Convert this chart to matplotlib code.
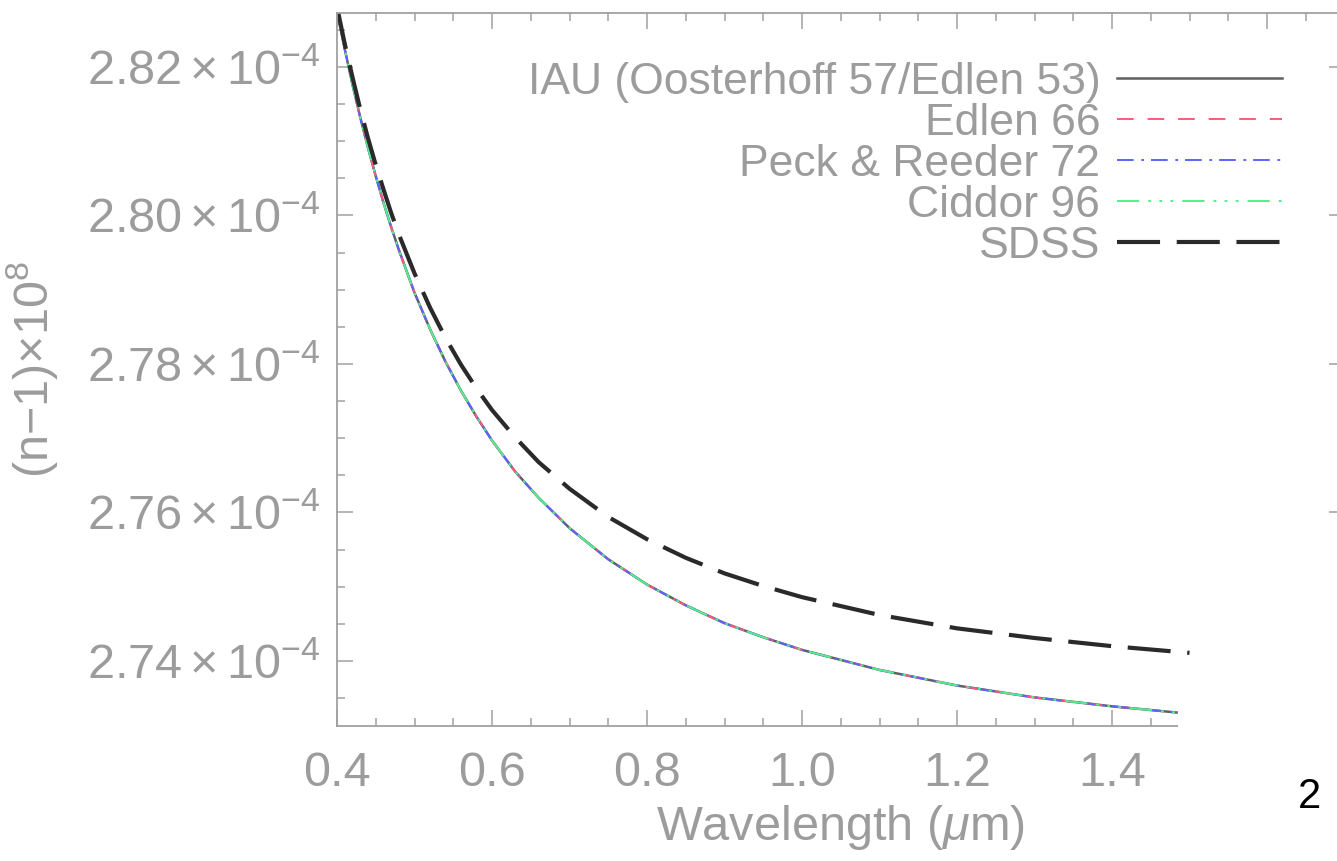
import matplotlib
matplotlib.use('Agg')
import matplotlib.pyplot as plt
from matplotlib.patches import Rectangle
from matplotlib.ticker import MultipleLocator, FuncFormatter

# wavelength in micron, refractivity (n-1) in units of 1e-4
wavelength = [0.40, 0.41, 0.42, 0.43, 0.44, 0.45, 0.46, 0.47, 0.48, 0.50,
              0.52, 0.54, 0.56, 0.58, 0.60, 0.63, 0.66, 0.70, 0.75, 0.80,
              0.85, 0.90, 0.95, 1.00, 1.10, 1.20, 1.30, 1.40, 1.50]

iau = [2.8275, 2.8224, 2.8176, 2.8132, 2.8091, 2.8053, 2.8017, 2.7984, 2.7953, 2.7896,
       2.7847, 2.7803, 2.7764, 2.7729, 2.7697, 2.7655, 2.7620, 2.7579, 2.7537, 2.7503,
       2.7475, 2.7451, 2.7432, 2.7415, 2.7388, 2.7367, 2.7351, 2.7339, 2.7329]
edlen66 = [2.8275, 2.8224, 2.8176, 2.8132, 2.8091, 2.8053, 2.8017, 2.7984, 2.7953, 2.7896,
           2.7847, 2.7803, 2.7764, 2.7729, 2.7697, 2.7655, 2.7620, 2.7579, 2.7537, 2.7503,
           2.7475, 2.7451, 2.7432, 2.7415, 2.7388, 2.7367, 2.7351, 2.7339, 2.7329]
peck_reeder72 = [2.8275, 2.8224, 2.8176, 2.8132, 2.8091, 2.8053, 2.8017, 2.7984, 2.7953, 2.7896,
                 2.7847, 2.7803, 2.7764, 2.7729, 2.7697, 2.7655, 2.7620, 2.7579, 2.7537, 2.7503,
                 2.7475, 2.7451, 2.7432, 2.7415, 2.7388, 2.7367, 2.7351, 2.7339, 2.7329]
ciddor96 = [2.8275, 2.8224, 2.8176, 2.8132, 2.8091, 2.8053, 2.8017, 2.7984, 2.7953, 2.7896,
            2.7847, 2.7803, 2.7764, 2.7729, 2.7697, 2.7655, 2.7620, 2.7579, 2.7537, 2.7503,
            2.7475, 2.7451, 2.7432, 2.7415, 2.7388, 2.7367, 2.7351, 2.7339, 2.7329]
sdss = [2.8281, 2.8231, 2.8186, 2.8143, 2.8104, 2.8068, 2.8035, 2.8003, 2.7974, 2.7922,
        2.7876, 2.7835, 2.7799, 2.7767, 2.7738, 2.7701, 2.7668, 2.7632, 2.7594, 2.7564,
        2.7539, 2.7518, 2.7501, 2.7486, 2.7462, 2.7444, 2.7431, 2.7420, 2.7411]

labels = ['IAU (Oosterhoff 57/Edlen 53)', 'Edlen 66', 'Peck & Reeder 72',
          'Ciddor 96', 'SDSS']

plt.rcParams['font.family'] = ['Liberation Sans', 'DejaVu Sans']
plt.rcParams['mathtext.fontset'] = 'custom'
plt.rcParams['mathtext.rm'] = 'Liberation Sans'
plt.rcParams['mathtext.it'] = 'Liberation Sans:italic'
plt.rcParams['lines.scale_dashes'] = False

text_gray = '#9c9c9c'
axis_gray = '#a0a0a0'
fs = 35

fig = plt.figure(figsize=(13.37, 8.61), dpi=100)
ax = fig.add_axes([337 / 1337, 135 / 861, 1007.5 / 1337, 713.3 / 861])

ax.plot(wavelength, iau, color='#606060', lw=1.8, label=labels[0])
ax.plot(wavelength, edlen66, color='#ff5a78', lw=1.4, dashes=(12, 10), label=labels[1])
ax.plot(wavelength, peck_reeder72, color='#5a64ff', lw=1.4,
        dashes=(12, 5.5, 2, 5), label=labels[2])
ax.plot(wavelength, ciddor96, color='#50f08c', lw=1.4,
        dashes=(16, 6.5, 2, 6, 2, 6, 2, 6.5), label=labels[3])
ax.plot(wavelength, sdss, color='#2a2a2a', lw=3, dashes=(31, 12), label=labels[4])

ax.set_xlim(0.4, 1.7)
ax.set_ylim(2.73125, 2.8273)

ax.xaxis.set_major_locator(MultipleLocator(0.2))
ax.xaxis.set_minor_locator(MultipleLocator(0.05))
ax.yaxis.set_major_locator(MultipleLocator(0.02))
ax.yaxis.set_minor_locator(MultipleLocator(0.005))
ax.xaxis.set_major_formatter(FuncFormatter(lambda v, _: '%.1f' % v))
ax.yaxis.set_major_formatter(
    FuncFormatter(lambda v, _: r'$\mathregular{%.2f\times10^{-4}}$' % v))

ax.tick_params(which='both', direction='in', top=True, right=True,
               color=axis_gray, labelcolor=text_gray, labelsize=fs, width=1.1)
ax.tick_params(which='major', length=11.5)
ax.tick_params(which='minor', length=6)
ax.tick_params(axis='x', pad=18)
ax.tick_params(axis='y', pad=12)
for sp in ax.spines.values():
    sp.set_color(axis_gray)
    sp.set_linewidth(1.3)

ax.set_xlabel(r'Wavelength ($\mu$m)', fontsize=fs, color=text_gray)
ax.xaxis.set_label_coords(0.5, -0.108)
ax.set_ylabel(r'(n$\mathregular{-}$1)$\mathregular{\times10^8}$', fontsize=fs, color=text_gray)
ax.yaxis.set_label_coords(-0.275, 0.5)

lfs = 32
ax.legend(loc='upper right', bbox_to_anchor=(1282 / 1337, 0.9285),
          bbox_transform=fig.transFigure, frameon=False, fontsize=lfs,
          markerfirst=False, handlelength=118.8 / lfs, handletextpad=12 / lfs,
          labelspacing=0, borderpad=0, borderaxespad=0, labelcolor=text_gray)

# lower right corner of the page is blank apart from a page number
fig.add_artist(Rectangle((1178 / 1337, 0), 170 / 1337, 204 / 861,
                         transform=fig.transFigure, facecolor='white',
                         edgecolor='none', zorder=5))
fig.text(1309 / 1337, 1 - 797 / 861, '2', fontsize=30, color='black',
         ha='center', va='center', zorder=6)

fig.savefig('out.png', dpi=100)
